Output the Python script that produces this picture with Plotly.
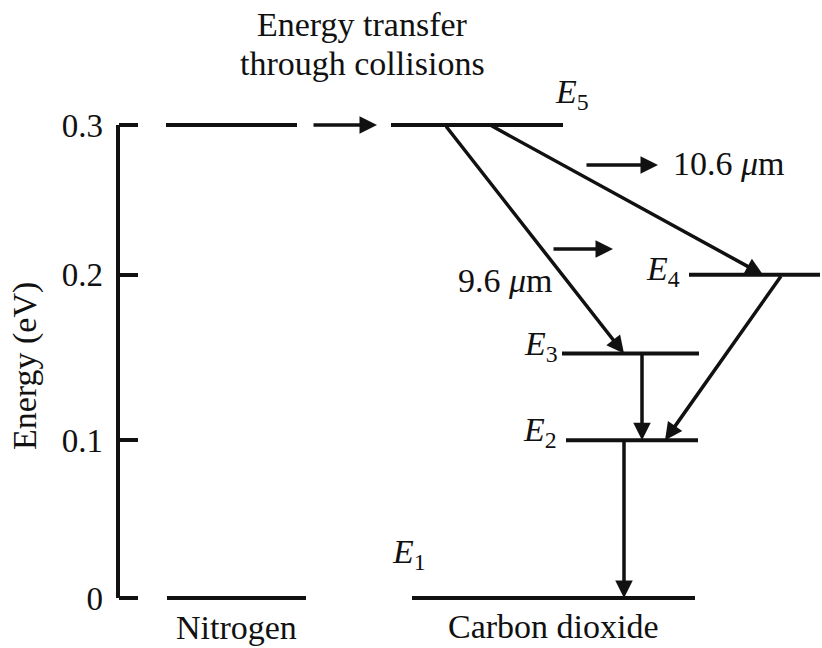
import plotly.graph_objects as go

# ---- data ----
# Energy levels (eV) and their horizontal extents (diagram units)
level_names = ["N2 upper", "N2 ground", "E5", "E4", "E3", "E2", "E1"]
level_energy = [0.3, 0.0, 0.3, 0.205, 0.155, 0.1, 0.0]
level_x0 = [166, 167, 391, 689, 562, 566, 412]
level_x1 = [297, 306, 563, 820, 699, 698, 695]

# Transitions: (x_from, E_from) -> (x_to, E_to)
trans_x_from = [312, 445, 490, 782, 642, 624]
trans_e_from = [0.3, 0.3, 0.3, 0.205, 0.155, 0.1]
trans_x_to = [377, 624, 763, 665, 642, 624]
trans_e_to = [0.3, 0.155, 0.205, 0.1, 0.1, 0.0]

# Photon emission direction arrows
emit_x_from = [585, 552]
emit_x_to = [658, 613]
emit_e = [0.2746, 0.2213]

# Axis ticks
tick_vals = [0, 0.1, 0.205, 0.3]
tick_text = ["0", "0.1", "0.2", "0.3"]
axis_x = 118

# Labels
level_labels = ["<i>E</i><sub>5</sub>", "<i>E</i><sub>4</sub>", "<i>E</i><sub>3</sub>",
                "<i>E</i><sub>2</sub>", "<i>E</i><sub>1</sub>"]
level_label_x = [572, 663, 541, 540, 409]
level_label_e = [0.3197, 0.2074, 0.1598, 0.1053, 0.0279]

text_labels = ["Energy transfer", "through collisions", "10.6 <i>μ</i>m", "9.6 <i>μ</i>m",
               "Nitrogen", "Carbon dioxide"]
text_x = [362, 362, 729, 505, 236, 553]
text_e = [0.3635, 0.3393, 0.2753, 0.2011, -0.0184, -0.0178]

FONT = "Liberation Serif"
FS = 34

fig = go.Figure()

# energy levels
xs, ys = [], []
for x0, x1, e in zip(level_x0, level_x1, level_energy):
    xs += [x0, x1, None]
    ys += [e, e, None]
fig.add_trace(go.Scatter(x=xs, y=ys, mode="lines", line=dict(color="#111", width=4),
                         hoverinfo="skip", showlegend=False))

# axis line
fig.add_trace(go.Scatter(x=[axis_x, axis_x], y=[tick_vals[0], tick_vals[-1]], mode="lines",
                         line=dict(color="#111", width=4), hoverinfo="skip", showlegend=False))

anns = []
for xf, ef, xt, et in zip(trans_x_from, trans_e_from, trans_x_to, trans_e_to):
    anns.append(dict(x=xt, y=et, ax=xf, ay=ef, xref="x", yref="y", axref="x", ayref="y",
                     text="", showarrow=True, arrowhead=2, arrowsize=1.0, arrowwidth=3.5,
                     arrowcolor="#111"))
for xf, xt, e in zip(emit_x_from, emit_x_to, emit_e):
    anns.append(dict(x=xt, y=e, ax=xf, ay=e, xref="x", yref="y", axref="x", ayref="y",
                     text="", showarrow=True, arrowhead=2, arrowsize=1.0, arrowwidth=3.5,
                     arrowcolor="#111"))
for t, x, e in zip(level_labels + text_labels, level_label_x + text_x, level_label_e + text_e):
    anns.append(dict(x=x, y=e, xref="x", yref="y", text=t, showarrow=False,
                     xanchor="center", yanchor="middle",
                     font=dict(family=FONT, size=FS, color="#111")))
anns.append(dict(x=25, y=0.1471, xref="x", yref="y", text="Energy (eV)", showarrow=False,
                 textangle=-90, xanchor="center", yanchor="middle",
                 font=dict(family=FONT, size=FS, color="#111")))

fig.update_layout(
    width=822, height=648, autosize=False,
    margin=dict(l=0, r=0, t=0, b=0),
    paper_bgcolor="white", plot_bgcolor="white",
    annotations=anns,
    xaxis=dict(range=[0, 822], visible=False, fixedrange=True),
    yaxis=dict(range=[-0.03171, 0.37928], anchor="free", position=axis_x / 822,
               showgrid=False, zeroline=False, showline=False, fixedrange=True,
               tickmode="array", tickvals=tick_vals, ticktext=tick_text,
               ticks="inside", ticklen=19, tickwidth=4, tickcolor="#111",
               ticklabelstandoff=15,
               tickfont=dict(family=FONT, size=33, color="#111")),
)

fig.write_html("out.html", config={"displayModeBar": False},
               post_script="document.body.style.margin='0px';document.body.style.overflow='hidden';")
